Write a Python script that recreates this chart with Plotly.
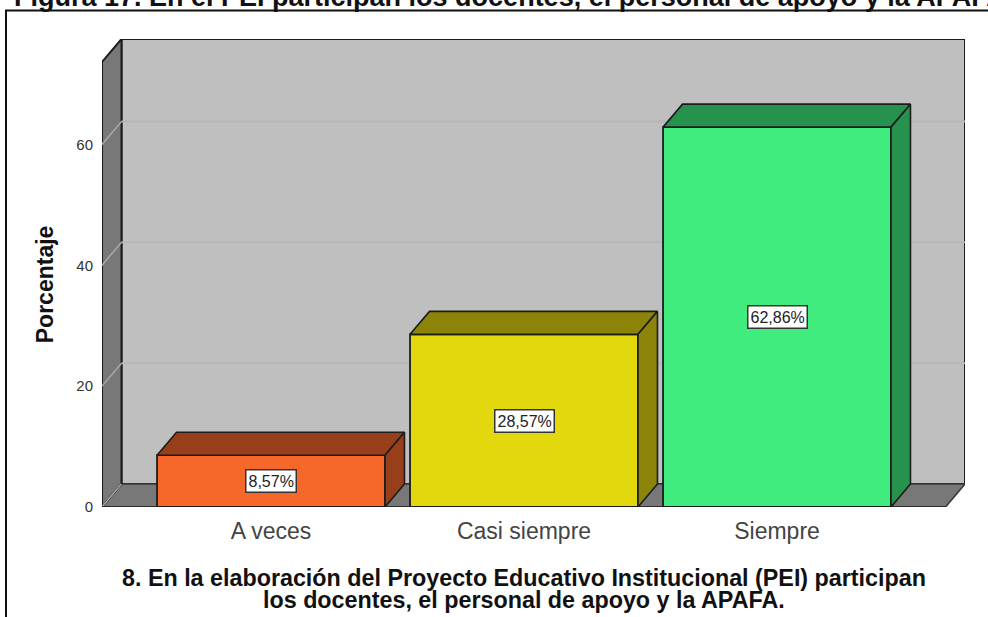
import plotly.graph_objects as go

categories = ["A veces", "Casi siempre", "Siempre"]
values = [8.57, 28.57, 62.86]
labels = ["8,57%", "28,57%", "62,86%"]
front_colors = ["#F5682A", "#E3D80E", "#41EC7E"]
side_colors = ["#963F1A", "#8C8408", "#27924E"]
y_ticks = [0, 20, 40, 60]
caption = "Figura 17. En el PEI participan los docentes, el personal de apoyo y la APAFA."
x_title_lines = ["8. En la elaboración del Proyecto Educativo Institucional (PEI) participan",
                 "los docentes, el personal de apoyo y la APAFA."]
y_title = "Porcentaje"

W, H = 988, 617
L, R, T, B = 102, 23, 39, 109.5
plot_w, plot_h = W - L - R, H - T - B
y_top = 77.44
x_lo, x_hi = -0.668, 2.743
bar_w = 0.901
dx = 0.077        # depth of the box along x (axis units)
dy = 3.8          # depth of the box along y (axis units)
wall_top = y_top - dy
EDGE = "#1c1c1c"

def px(xp):
    return (xp - L) / plot_w

def py(yp):
    return (H - B - yp) / plot_h

shapes = []

def poly(xs, ys, fill, line=EDGE, width=1.6, layer="below"):
    path = "M " + " L ".join(f"{a},{b}" for a, b in zip(xs, ys)) + " Z"
    shapes.append(dict(type="path", path=path, xref="x", yref="y", fillcolor=fill,
                       line=dict(color=line, width=width), layer=layer))

def seg(x0, y0, x1, y1, color, width=1.5):
    shapes.append(dict(type="line", x0=x0, y0=y0, x1=x1, y1=y1, xref="x", yref="y",
                       line=dict(color=color, width=width), layer="below"))

# box: back wall, floor, left wall
fl = x_lo
fr = x_hi - dx
bl = x_lo + dx
poly([bl, x_hi, x_hi, bl], [dy, dy, y_top, y_top], "#BFBFBF", width=2)
poly([fl, bl, x_hi, fr], [0, dy, dy, 0], "#787878", line="#3a3a3a")
poly([fl, bl, bl, fl], [0, dy, y_top, wall_top], "#787878", width=2)
for t in y_ticks[1:]:
    seg(bl, t + dy, x_hi, t + dy, "#B6B6B6", 2)
    seg(fl, t, bl, t + dy, "#A8A8A8", 1.5)
seg(fl, 0, bl, dy, "#A8A8A8", 1.5)
seg(fl, 0, fr, 0, "#2b2b2b", 2)

# outer frame: left and top edges only
shapes.append(dict(type="path", xref="paper", yref="paper",
                   path=f"M {px(6)},{py(H + 5)} L {px(6)},{py(10.5)} L {px(W + 5)},{py(10.5)}",
                   line=dict(color="#111111", width=2), layer="below"))

fig = go.Figure()
for i, v in enumerate(values):
    x0, x1 = i - bar_w / 2, i + bar_w / 2
    fig.add_trace(go.Scatter(x=[x0, x0 + dx, x1 + dx, x1, x0], y=[v, v + dy, v + dy, v, v],
                             mode="lines", fill="toself", fillcolor=side_colors[i],
                             line=dict(color=EDGE, width=1.6), hoverinfo="skip", showlegend=False))
    fig.add_trace(go.Scatter(x=[x1, x1 + dx, x1 + dx, x1, x1], y=[0, dy, v + dy, v, 0],
                             mode="lines", fill="toself", fillcolor=side_colors[i],
                             line=dict(color=EDGE, width=1.6), hoverinfo="skip", showlegend=False))

fig.add_trace(go.Bar(x=list(range(len(values))), y=values, width=bar_w,
                     marker=dict(color=front_colors, line=dict(color=EDGE, width=1.8)),
                     showlegend=False))

annotations = [
    dict(x=i, y=v / 2, xref="x", yref="y", text=labels[i], showarrow=False,
         xanchor="center", yanchor="middle",
         font=dict(family="Liberation Sans", size=16, color="#222222"),
         bgcolor="white", bordercolor="#333333", borderwidth=1.5, borderpad=2)
    for i, v in enumerate(values)
]
bold = dict(family="Liberation Sans", size=23.3, color="#111111", weight="bold")
annotations += [
    dict(x=px(523.5), y=py(579), xref="paper", yref="paper", text=x_title_lines[0], showarrow=False,
         xanchor="center", yanchor="middle", font=bold),
    dict(x=px(523.5), y=py(601), xref="paper", yref="paper", text=x_title_lines[1], showarrow=False,
         xanchor="center", yanchor="middle", font=bold),
    dict(x=px(44.5), y=py(285), xref="paper", yref="paper", text=y_title, showarrow=False,
         textangle=-90, xanchor="center", yanchor="middle",
         font=dict(family="Liberation Sans", size=23, color="#111111", weight="bold")),
    dict(x=px(12), y=py(14), xref="paper", yref="paper", text=caption, showarrow=False,
         xanchor="left", yanchor="bottom",
         font=dict(family="Liberation Sans", size=27, color="#111111", weight="bold")),
]

fig.update_layout(
    width=W, height=H, autosize=False, paper_bgcolor="white", plot_bgcolor="white",
    margin=dict(l=L, r=R, t=T, b=B), shapes=shapes, annotations=annotations,
    font=dict(family="Liberation Sans"), hovermode=False,
    xaxis=dict(range=[x_lo, x_hi], tickmode="array", tickvals=list(range(len(categories))),
               ticktext=categories, showgrid=False, zeroline=False, showline=False,
               ticks="outside", ticklen=3, tickcolor="rgba(0,0,0,0)",
               tickfont=dict(size=23, color="#444444")),
    yaxis=dict(range=[0, y_top], tickmode="array", tickvals=y_ticks, showgrid=False,
               zeroline=False, showline=False, ticks="outside", ticklen=5,
               tickcolor="rgba(0,0,0,0)", tickfont=dict(size=15, color="#333333")),
)

fig.write_html("out.html", config={"displayModeBar": False},
               post_script="document.body.style.margin='0';")
